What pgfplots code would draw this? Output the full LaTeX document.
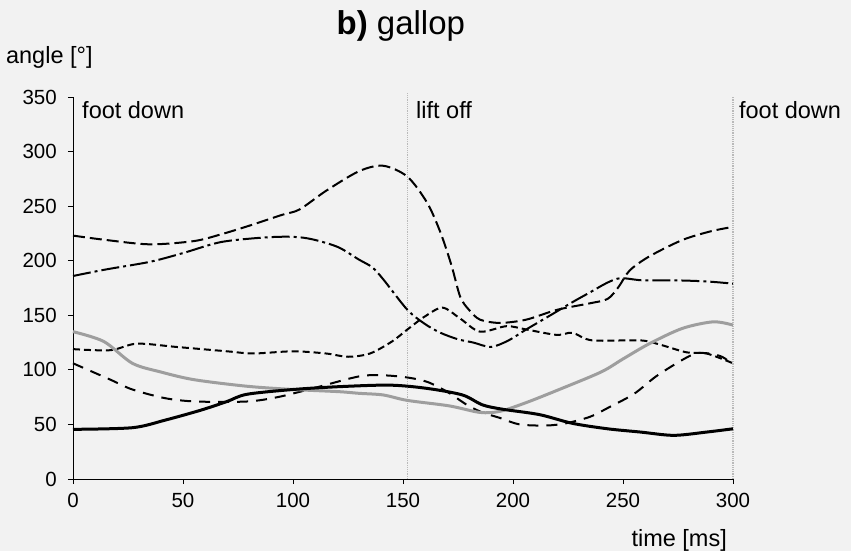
\documentclass[border=0pt]{standalone}
\usepackage{fontspec}
\setmainfont{Liberation Sans}
\usepackage{pgfplots}
\pgfplotsset{compat=1.18}
\definecolor{bg}{RGB}{242,242,242}
\definecolor{grayline}{RGB}{158,158,158}
\definecolor{vline}{RGB}{185,185,185}
\begin{document}
\begin{tikzpicture}
\path[use as bounding box, fill=bg] (-73pt,-72pt) rectangle (778pt,479pt);
\begin{axis}[
  at={(0,0)}, anchor=south west,
  scale only axis, width=660pt, height=382pt,
  xmin=0, xmax=300, ymin=0, ymax=350,
  axis lines=left,
  axis line style={-, line width=0.9pt, black},
  tick align=outside, major tick length=5pt,
  tick style={black, line width=0.9pt},
  xtick={0,50,...,300}, ytick={0,50,...,350},
  minor tick num=0,
  /pgf/number format/assume math mode=true,
  ticklabel style={font=\fontsize{20.5}{24}\selectfont, inner sep=0pt},
  yticklabel style={anchor=east, xshift=-11pt},
  xticklabel style={anchor=north, yshift=-9pt},
  clip=false,
]
% vertical event lines
\addplot[vline, line width=1.2pt, densely dotted] coordinates {(152,0) (152,354)};
\addplot[vline, line width=1.2pt, densely dotted] coordinates {(300,0) (300,350)};

% A long dashed
\addplot[black, line width=2pt, smooth, dash pattern=on 12pt off 5pt] coordinates {
(0,223) (15,219) (35,215) (55,218) (67,224) (80,232) (95,242) (103,247) (115,264) (130,282) (141,287) (152,277) (161,253) (167,226) (172,196) (176,167) (180,155) (185,146) (194,143) (206,146) (220,155) (235,161) (243,165) (248,176) (253,191) (262,204) (277,219) (290,227) (300,231)};

% B dash-dot
\addplot[black, line width=2pt, smooth, dash pattern=on 18pt off 4pt on 3pt off 4pt] coordinates {
(0,186) (15,192) (35,199) (50,207) (67,217) (85,221) (97,222) (105,221) (112,218) (121,212) (130,201) (136,194) (141,183) (152,155) (160,142) (167,134) (175,128) (182,125) (190,121) (198,127) (206,137) (217,150) (227,162) (235,171) (243,180) (249,184) (259,182) (274,182) (288,181) (300,179)};

% C short dashed
\addplot[black, line width=2pt, smooth, dash pattern=on 7pt off 4pt] coordinates {
(0,119) (17,118) (29,124) (47,121) (70,117) (82,115) (100,117) (115,115) (125,112) (135,115) (145,126) (152,137) (160,149) (168,157) (176,147) (185,135) (197,140) (206,137) (220,132) (227,134) (236,127) (258,127) (267,123) (279,116) (288,115) (300,106)};

% D medium dashed
\addplot[black, line width=2pt, smooth, dash pattern=on 11pt off 8pt] coordinates {
(0,106) (17,91) (27,82) (42,74) (56,71) (79,71) (93,75) (109,83) (130,94) (141,95) (152,93) (161,89) (170,80) (179,68) (186,61) (194,56) (203,50) (215,49) (224,51) (235,57) (243,65) (255,78) (265,94) (276,108) (283,115) (289,115) (295,112) (300,105)};

% E gray solid
\addplot[grayline, line width=3pt, smooth] coordinates {
(0,135) (14,126) (27,106) (40,98) (55,91) (79,85) (100,82) (121,80) (130,78.5) (141,77) (152,72) (171,67) (185,61) (194,62) (206,70) (221,82) (240,98) (250,110) (262,124) (277,138) (291,144) (300,141)};

% F black solid thick
\addplot[black, line width=3pt, smooth] coordinates {
(0,45.5) (27,47) (42,54) (58,63) (70,71) (79,77.6) (100,82) (121,84.6) (144,86) (161,83) (177,77) (186,68) (195,64) (212,59) (227,51) (243,46) (258,43) (273,40) (288,43) (300,46)};

% texts
\node[anchor=base, inner sep=0pt, font=\fontsize{33}{38}\selectfont] at (axis cs:149,407) {\textbf{b)} gallop};
\node[anchor=base west, inner sep=0pt, font=\fontsize{23.5}{28}\selectfont] at (axis cs:-30.5,381) {angle [°]};
\node[anchor=base west, inner sep=0pt, font=\fontsize{23.5}{28}\selectfont] at (axis cs:4.1,330) {foot down};
\node[anchor=base west, inner sep=0pt, font=\fontsize{23.5}{28}\selectfont] at (axis cs:155.9,330) {lift off};
\node[anchor=base west, inner sep=0pt, font=\fontsize{23.5}{28}\selectfont] at (axis cs:302.7,330) {foot down};
\node[anchor=base east, inner sep=0pt, font=\fontsize{23.5}{28}\selectfont] at (axis cs:297.3,-62) {time [ms]};
\end{axis}
\end{tikzpicture}
\end{document}
